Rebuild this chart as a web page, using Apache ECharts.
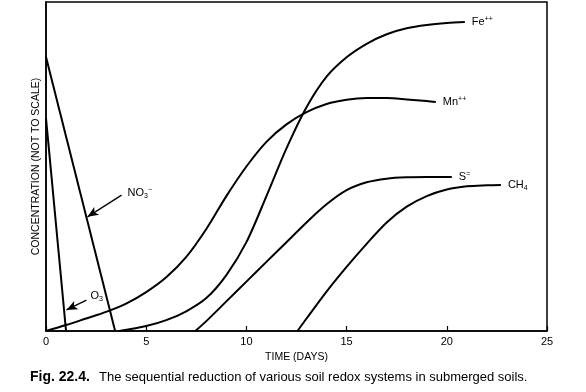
<!DOCTYPE html>
<html>
<head>
<meta charset="utf-8">
<script src="https://cdn.jsdelivr.net/npm/echarts@6/dist/echarts.min.js"></script>
<style>
html,body{margin:0;padding:0;background:#fff;}
#chart{width:586px;height:392px;}
</style>
</head>
<body>
<div id="chart"></div>
<script>
// ---- data ----
const xTicks = [0, 5, 10, 15, 20, 25];

const oxygenX = [0, 1.0];
const oxygenY = [64.7, 0];

const nitrateX = [0, 3.45];
const nitrateY = [83.3, 0];

const manganeseX = [0, 1, 2, 3, 4, 5, 6, 7, 8, 9, 10, 11, 12, 13, 14, 15, 16, 17, 18, 19, 19.45];
const manganeseY = [0, 1.8, 3.8, 5.8, 8.3, 11.8, 16.3, 22.5, 31, 41, 50, 57.5, 62.8, 66.5, 69, 70.3, 70.8, 70.8, 70.4, 69.9, 69.6];

const ironX = [3.65, 5, 6, 7, 8, 9, 10, 11, 12, 13, 14, 15, 16, 17, 18, 19, 20, 20.9];
const ironY = [0, 1.5, 3.3, 6, 10, 17, 27, 41, 55.5, 68, 77.3, 83.2, 87.3, 90.2, 92, 93, 93.6, 93.9];

const sulfideX = [7.45, 8, 9, 10, 11, 12, 13, 14, 15, 16, 17, 18, 19, 20.25];
const sulfideY = [0, 3, 9, 15, 21, 27, 33, 38.5, 42.8, 45.2, 46.3, 46.7, 46.8, 46.8];

const methaneX = [12.55, 13, 14, 15, 16, 17, 18, 19, 20, 21, 22, 22.7];
const methaneY = [0, 3.8, 12, 19.5, 26.5, 33, 37.8, 41, 43, 44, 44.3, 44.4];

// annotation arrows: [start, tip] and label anchor
const nitrateArrow = [[3.77, 41.3], [2.07, 34.7]];
const nitrateLabelAt = [4.07, 41.9];
const oxygenArrow = [[2.02, 9.4], [1.02, 6.4]];
const oxygenLabelAt = [2.22, 10.6];

const captionBold = 'Fig. 22.4.';
const captionText = 'The sequential reduction of various soil redox systems in submerged soils.';

// ---- build ----
const FONT = '"Liberation Sans", Arial, Helvetica, sans-serif';
const pairs = (xs, ys) => xs.map((x, i) => [x, ys[i]]);
const chemRich = {
  t: {fontSize: 11, fontFamily: FONT, color: '#000', lineHeight: 13},
  sup: {fontSize: 7, fontFamily: FONT, color: '#000', verticalAlign: 'top', lineHeight: 8},
  sub: {fontSize: 7, fontFamily: FONT, color: '#000', verticalAlign: 'bottom', lineHeight: 8}
};
const lineStyle = {color: '#000', width: 2};

function curve(name, xs, ys, label, smooth) {
  const s = {
    name: name, type: 'line', data: pairs(xs, ys), smooth: smooth, showSymbol: false,
    symbol: 'none', lineStyle: lineStyle, itemStyle: {color: '#000'}, silent: true, z: 3
  };
  if (label) {
    s.endLabel = {show: true, formatter: label, distance: 7, rich: chemRich, align: 'left', verticalAlign: 'middle'};
  }
  return s;
}

function arrowMark(arrow) {
  return {
    silent: true, symbol: ['none', 'arrow'], symbolSize: [7, 11],
    lineStyle: {color: '#000', width: 1.3, type: 'solid'},
    label: {show: false},
    data: [[{coord: arrow[0]}, {coord: arrow[1]}]]
  };
}
function labelMark(at, text) {
  return {
    silent: true, symbol: 'circle', symbolSize: 0,
    label: {show: true, position: 'right', distance: 0, formatter: text, rich: chemRich},
    data: [{coord: at}]
  };
}

const o2 = curve('O', oxygenX, oxygenY, null, false);
o2.markLine = arrowMark(oxygenArrow);
o2.markPoint = labelMark(oxygenLabelAt, '{t|O}{sub|3}');

const no3 = curve('NO3', nitrateX, nitrateY, null, false);
no3.markLine = arrowMark(nitrateArrow);
no3.markPoint = labelMark(nitrateLabelAt, '{t|NO}{sub|3}{sup|−}');

const chart = echarts.init(document.getElementById('chart'), null, {renderer: 'canvas'});
chart.setOption({
  animation: false,
  backgroundColor: '#fff',
  textStyle: {fontFamily: FONT},
  grid: {left: 46, right: 39, top: 2, bottom: 61, show: true, borderColor: '#000', borderWidth: 1.5, backgroundColor: 'transparent'},
  xAxis: {
    type: 'value', min: 0, max: 25, interval: 5,
    name: 'TIME (DAYS)', nameLocation: 'middle', nameGap: 21,
    nameTextStyle: {fontSize: 10.5, color: '#000', fontFamily: FONT},
    axisLine: {show: true, lineStyle: {color: '#000', width: 1.5}},
    axisTick: {show: true, inside: true, length: 5, lineStyle: {color: '#000', width: 1.2}},
    axisLabel: {show: true, margin: 5, fontSize: 11, color: '#000', fontFamily: FONT,
      formatter: v => (xTicks.indexOf(v) >= 0 ? String(v) : '')},
    splitLine: {show: false}
  },
  yAxis: {
    type: 'value', min: 0, max: 100,
    name: 'CONCENTRATION (NOT TO SCALE)', nameLocation: 'middle', nameGap: 4,
    nameTextStyle: {fontSize: 10.5, color: '#000', fontFamily: FONT},
    axisLine: {show: true, lineStyle: {color: '#000', width: 1.5}},
    axisTick: {show: false}, axisLabel: {show: false}, splitLine: {show: false}
  },
  series: [
    o2,
    no3,
    curve('Mn', manganeseX, manganeseY, '{t|Mn}{sup|++}', 0.3),
    curve('Fe', ironX, ironY, '{t|Fe}{sup|++}', 0.3),
    curve('S', sulfideX, sulfideY, '{t|S}{sup|=}', 0.3),
    curve('CH4', methaneX, methaneY, '{t|CH}{sub|4}', 0.3)
  ],
  graphic: [{
    type: 'text', left: 30, top: 370, silent: true,
    style: {text: captionBold, fontSize: 14, fontWeight: 'bold', fontFamily: FONT, fill: '#000'}
  }, {
    type: 'text', left: 99, top: 371, silent: true,
    style: {text: captionText, fontSize: 13, fontFamily: FONT, fill: '#000'}
  }]
});
</script>
</body>
</html>
